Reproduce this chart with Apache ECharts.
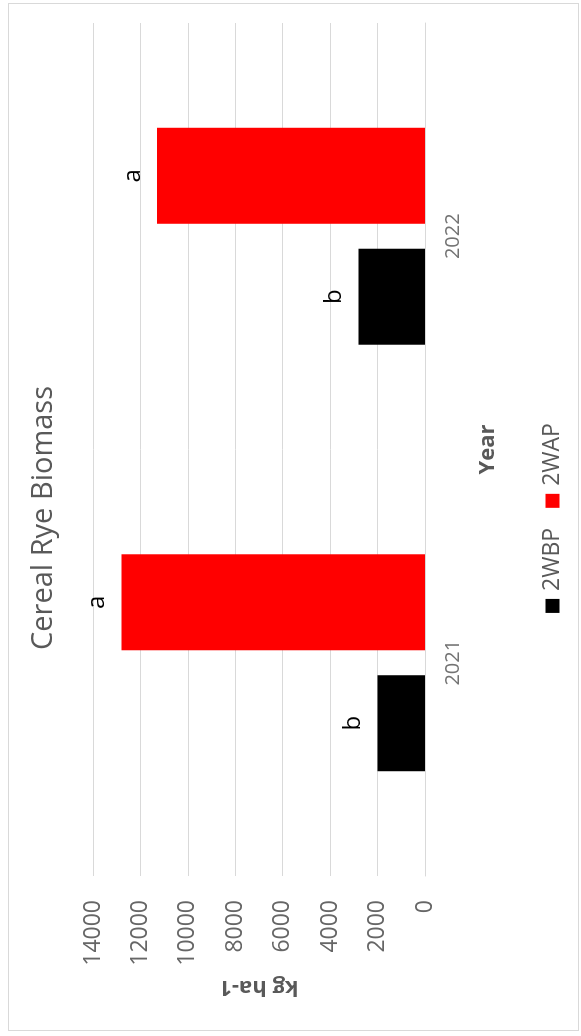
<!DOCTYPE html>
<html>
<head>
<meta charset="utf-8">
<script src="https://cdn.jsdelivr.net/npm/echarts@6/dist/echarts.min.js"></script>
<style>
  html, body { margin: 0; padding: 0; background: #ffffff; overflow: hidden; }
  body { width: 581px; height: 1036px; position: relative; }
  /* The chart is laid out landscape and turned a quarter-turn counter-clockwise */
  #turn {
    position: absolute; left: 0; top: 0;
    width: 1036px; height: 581px;
    transform-origin: 0 0;
    transform: translate(0, 1036px) rotate(-90deg);
  }
  #chart { position: absolute; left: 0; top: 0; width: 1036px; height: 581px; }
  #frame {
    position: absolute; left: 5px; top: 8px; width: 1028px; height: 571px;
    border: 1px solid #d9d9d9; box-sizing: border-box; pointer-events: none;
  }
</style>
</head>
<body>
<div id="turn">
  <div id="chart"></div>
  <div id="frame"></div>
</div>
<script>
// Cereal rye biomass by year, kg ha-1
const years = ['2021', '2022'];
const values2WBP = [2000, 2800];
const values2WAP = [12800, 11300];
// Mean-separation letters shown above each bar
const letters2WBP = ['b', 'b'];
const letters2WAP = ['a', 'a'];
const valueTicks = { min: 0, max: 14000, interval: 2000 };

const FONT = '"Open Sans", "DejaVu Sans", sans-serif';
const GREY = '#595959';

const chart = echarts.init(document.getElementById('chart'), null, { renderer: 'canvas' });

function letterLabel(letters) {
  return {
    show: true,
    position: 'top',
    distance: 12,
    color: '#000000',
    fontFamily: FONT,
    fontSize: 24,
    formatter: p => letters[p.dataIndex]
  };
}

chart.setOption({
  animation: false,
  backgroundColor: '#ffffff',
  title: {
    text: 'Cereal Rye Biomass',
    left: 'center',
    top: 24,
    textStyle: { fontFamily: FONT, fontSize: 29, fontWeight: 'normal', color: GREY }
  },
  legend: {
    bottom: 12,
    left: 'center',
    itemWidth: 14,
    itemHeight: 14,
    itemGap: 20,
    icon: 'rect',
    textStyle: { fontFamily: FONT, fontSize: 23, color: GREY, padding: [0, 0, 0, 3] },
    data: ['2WBP', '2WAP']
  },
  grid: { left: 160, right: 23, top: 93, bottom: 156, containLabel: false },
  xAxis: {
    type: 'category',
    data: years,
    name: 'Year',
    nameLocation: 'middle',
    nameGap: 52,
    nameTextStyle: { fontFamily: FONT, fontSize: 22, fontWeight: 'bold', color: GREY },
    axisLine: { show: true, lineStyle: { color: '#d9d9d9', width: 1 } },
    axisTick: { show: false },
    axisLabel: { margin: 18, fontFamily: FONT, fontSize: 20, color: '#737373' },
    splitLine: { show: false }
  },
  yAxis: {
    type: 'value',
    min: valueTicks.min,
    max: valueTicks.max,
    interval: valueTicks.interval,
    name: 'kg ha-1',
    nameLocation: 'middle',
    nameRotate: 90,
    nameGap: 100,
    nameTextStyle: { fontFamily: FONT, fontSize: 22, fontWeight: 'bold', color: GREY },
    axisLine: { show: false },
    axisTick: { show: false },
    axisLabel: {
      margin: 24, fontFamily: FONT, fontSize: 23, color: '#666666',
      formatter: v => String(v)
    },
    splitLine: { show: true, lineStyle: { color: '#d9d9d9', width: 1 } }
  },
  series: [
    {
      name: '2WBP',
      type: 'bar',
      data: values2WBP,
      barWidth: 96,
      barGap: '26%',
      itemStyle: { color: '#000000' },
      label: letterLabel(letters2WBP)
    },
    {
      name: '2WAP',
      type: 'bar',
      data: values2WAP,
      barWidth: 96,
      itemStyle: { color: '#ff0000' },
      label: letterLabel(letters2WAP)
    }
  ]
});
</script>
</body>
</html>
